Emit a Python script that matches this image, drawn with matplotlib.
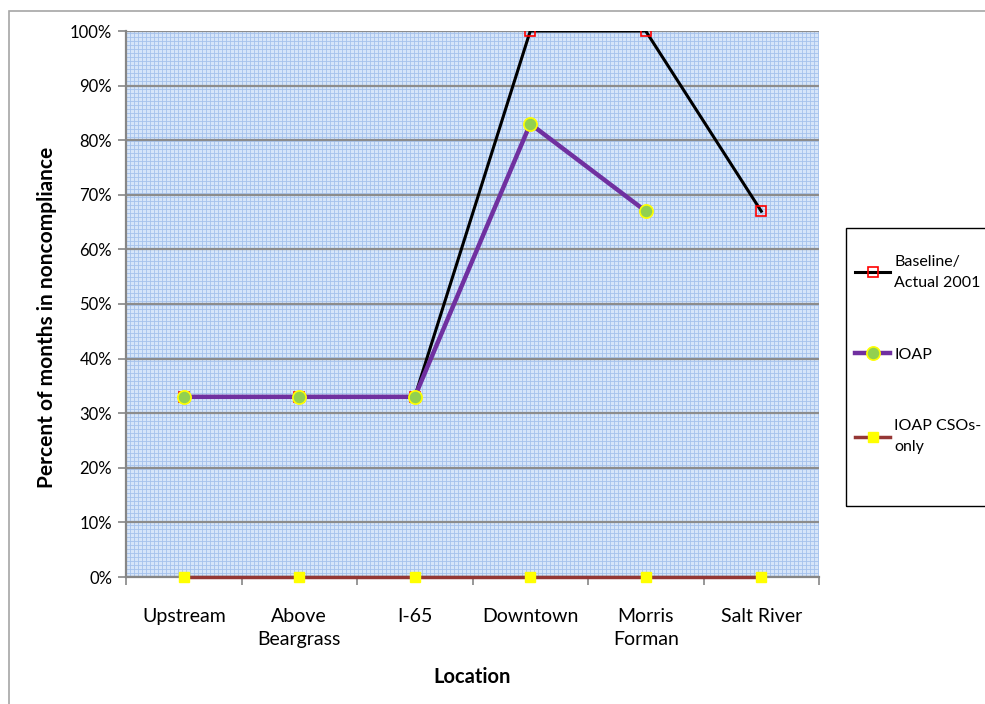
import numpy as np
import matplotlib
matplotlib.use("Agg")
import matplotlib.pyplot as plt
from matplotlib.collections import LineCollection
from matplotlib.patches import Rectangle

locations = ["Upstream", "Above\nBeargrass", "I-65", "Downtown", "Morris\nForman", "Salt River"]
baseline_2001 = [33, 33, 33, 100, 100, 67]
ioap = [33, 33, 33, 83, 67, np.nan]
ioap_csos_only = [0, 0, 0, 0, 0, 0]
y_ticks = list(range(0, 101, 10))

plt.rcParams["font.family"] = ["Lato", "DejaVu Sans"]

W, H = 985, 704
fig = plt.figure(figsize=(W / 100, H / 100), dpi=100)
ax = fig.add_axes([126 / W, 1 - 577 / H, 693 / W, 546 / H])

# outer chart border (only left/top visible in the reference)
fig.patches.append(Rectangle((9 / W, -0.05), 1.2, 1 - 11 / H + 0.05, transform=fig.transFigure,
                             fill=False, edgecolor="#a6a6a6", linewidth=1.2))

# patterned plot-area fill
ax.set_facecolor("#d6e5f9")
vx = np.arange(0, 1, 4 / 693)
vy = np.arange(0, 1, 4 / 546)
segs = [[(v, 0), (v, 1)] for v in vx] + [[(0, v), (1, v)] for v in vy]
ax.add_collection(LineCollection(segs, colors="#a4c2ec", linewidths=0.6, transform=ax.transAxes, zorder=0))

x = np.arange(len(locations))
ax.plot(x, baseline_2001, color="black", lw=2.2, marker="s", ms=7, mfc="none", mec="#ff0000", mew=1.2, zorder=3,
        label="Baseline/\nActual 2001")
ax.plot(x, ioap, color="#7030a0", lw=3.2, marker="o", ms=9.5, mfc="#92d050", mec="#ffff00", mew=1.2, zorder=4,
        label="IOAP")
ax.plot(x, ioap_csos_only, color="#953735", lw=2.5, marker="s", ms=6.5, mfc="#ffff00", mec="#ffff00", zorder=5,
        label="IOAP CSOs-\nonly", clip_on=False)

ax.set_xlim(-0.5, len(locations) - 0.5)
ax.set_ylim(0, 100)
ax.set_yticks(y_ticks)
ax.set_yticklabels([f"{v}%" for v in y_ticks])
ax.yaxis.grid(True, color="#8c8c8c", lw=1.6)
for line in ax.get_ygridlines():
    line.set_zorder(1)

ax.set_xticks(x)
ax.set_xticklabels(locations, linespacing=1.45)
ax.set_xticks(np.arange(-0.5, len(locations), 1), minor=True)
ax.tick_params(axis="x", which="major", length=0, pad=22, labelsize=14)
ax.tick_params(axis="x", which="minor", length=6, width=1.2, color="#868686", direction="out")
ax.tick_params(axis="y", length=6, width=1.2, color="#868686", direction="out", labelsize=12, pad=4)

for side in ("top", "right"):
    ax.spines[side].set_visible(False)
for side in ("left", "bottom"):
    ax.spines[side].set_color("#868686")
    ax.spines[side].set_linewidth(1.6)

ax.set_xlabel("Location", fontsize=14.5, fontweight="bold", labelpad=14)
ax.set_ylabel("Percent of months in noncompliance", fontsize=15, fontweight="bold")
ax.yaxis.set_label_coords(-0.1, 0.476)

# legend box drawn separately so the entries can sit where Excel puts them
fig.patches.append(Rectangle((846 / W, 1 - 506 / H), 0.3, 278 / H, transform=fig.transFigure,
                             fill=False, edgecolor="black", linewidth=1.0))
handles, labels = ax.get_legend_handles_labels()
leg = fig.legend(handles, labels, loc="upper left", bbox_to_anchor=(855 / W, 1 - 255 / H),
                 frameon=False, fontsize=11.5, labelspacing=3.6, handlelength=2.2, handletextpad=0.25,
                 borderpad=0, borderaxespad=0)
for t in leg.get_texts():
    t.set_linespacing(1.65)

fig.savefig("out.png", dpi=100)
